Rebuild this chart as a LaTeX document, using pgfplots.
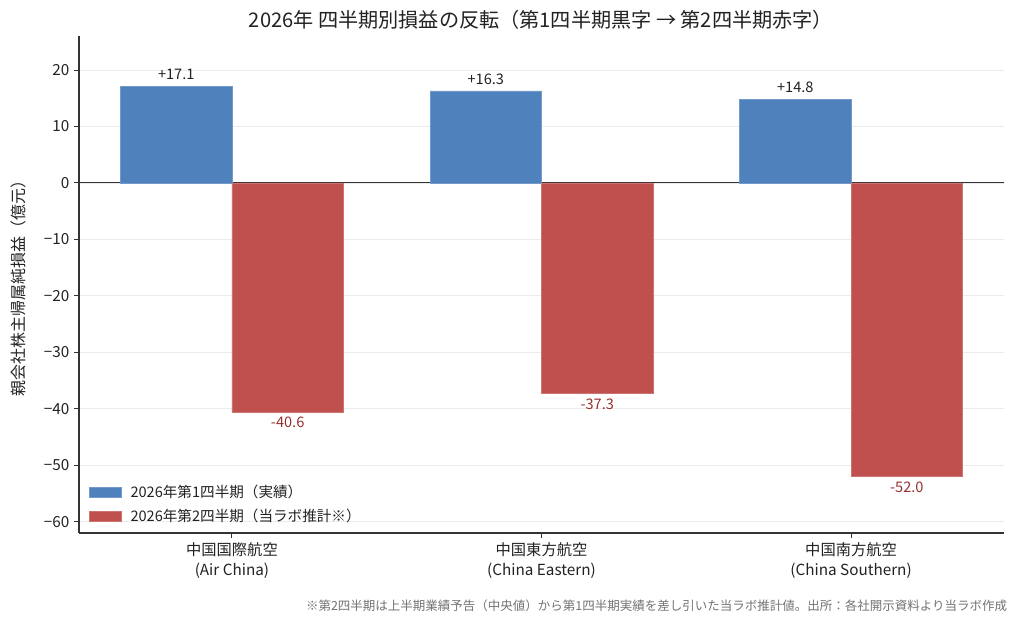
\documentclass[border=0pt]{standalone}
\usepackage{fontspec}
\setmainfont{Noto Sans CJK JP}
\usepackage{pgfplots}
\pgfplotsset{compat=1.18}
\definecolor{qblue}{RGB}{79,129,189}
\definecolor{qred}{RGB}{192,80,77}
\definecolor{lred}{RGB}{150,48,48}
\definecolor{txt}{RGB}{34,34,34}
\definecolor{axc}{RGB}{51,51,51}
\begin{document}
\begin{tikzpicture}
\path[use as bounding box] (-56.9pt,-65.5pt) rectangle (680.4pt,383.8pt);
\begin{axis}[
  at={(0,0)}, anchor=south west,
  scale only axis, width=666pt, height=357.8pt,
  xmin=-0.494, xmax=2.494, ymin=-62, ymax=26,
  ybar=0pt, bar width=0.36,
  axis x line*=bottom, axis y line*=left,
  axis line style={color=axc, line width=0.9pt},
  xtick={0,1,2},
  xticklabels={{中国国際航空\\(Air China)},{中国東方航空\\(China Eastern)},{中国南方航空\\(China Southern)}},
  xticklabel style={align=center, text=txt, font=\fontsize{11}{14.4}\selectfont},
  ytick={-60,-50,-40,-30,-20,-10,0,10,20},
  yticklabels={−60,−50,−40,−30,−20,−10,0,10,20},
  yticklabel style={text=txt, font=\fontsize{11}{13}\selectfont},
  ymajorgrids, major grid style={color=black!8, line width=0.6pt},
  extra y ticks={0}, extra y tick labels={},
  extra y tick style={grid=major, major grid style={color=axc, line width=0.8pt}, major tick length=0pt},
  tick align=outside, major tick length=3.5pt,
  tick style={color=axc, line width=0.7pt},
  ylabel={親会社株主帰属純損益（億元）},
  ylabel style={at={(axis description cs:-0.066,0.5)}, anchor=center, text=txt, font=\fontsize{11.5}{13}\selectfont},
  legend style={at={(0.006,0.006)}, anchor=south west, draw=none, fill=none,
    font=\fontsize{10.5}{12}\selectfont, text=txt, row sep=1.5pt,
    nodes={inner sep=2.5pt},
    /tikz/every odd column/.append style={column sep=4pt}},
  legend cell align=left,
  legend image code/.code={\fill[#1] (0pt,-3.6pt) rectangle (23pt,3.6pt);},
  nodes near coords, point meta=explicit symbolic,
  every node near coord/.append style={font=\fontsize{10.5}{12}\selectfont},
]
\addplot[bar shift=-0.18, fill=qblue, draw=qblue!80!white, line width=0.4pt,
  every node near coord/.append style={text=txt, anchor=south, yshift=1pt}]
  coordinates {(0,17.1)[+17.1] (1,16.3)[+16.3] (2,14.8)[+14.8]};
\addlegendentry{2026年第1四半期（実績）}
\addplot[bar shift=0.18, fill=qred, draw=qred!80!white, line width=0.4pt,
  every node near coord/.append style={text=lred, anchor=north}]
  coordinates {(0,-40.6)[-40.6] (1,-37.3)[-37.3] (2,-52.0)[-52.0]};
\addlegendentry{2026年第2四半期（当ラボ推計※）}
\end{axis}
\node[text=txt, font=\fontsize{14.5}{16}\selectfont] at (332.6pt,369.4pt) {2026年 四半期別損益の反転（第1四半期黒字 → 第2四半期赤字）};
\node[anchor=east, text=black!55, font=\fontsize{9}{11}\selectfont] at (671.8pt,-52.6pt) {※第2四半期は上半期業績予告（中央値）から第1四半期実績を差し引いた当ラボ推計値。出所：各社開示資料より当ラボ作成};
\end{tikzpicture}
\end{document}
